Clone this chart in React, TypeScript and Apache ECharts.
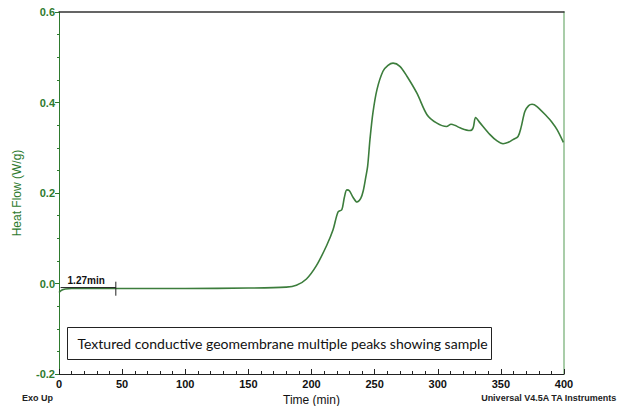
import React, { useEffect, useRef } from "react";
import * as echarts from "echarts";

const timeMin = [
  0, 2, 5, 10, 20, 50, 100, 150, 180, 188, 196, 204, 212, 217, 221, 224, 226, 228, 230, 233, 236, 239, 241, 243,
  244.5, 246.3, 248.7, 251.9, 256.6, 260.6, 264.6, 270, 275.6, 283.6, 291.5, 299, 307, 310.5, 314, 317.6, 325.5,
  328, 330, 333.5, 341.4, 347, 351.7, 356, 359.6, 363.6, 366, 369, 372, 374.7, 378.6, 386.5, 390, 394.5, 399.5,
];
const heatFlow = [
  -0.02, -0.015, -0.012, -0.011, -0.011, -0.011, -0.011, -0.01, -0.008, -0.004, 0.01, 0.04, 0.084, 0.118, 0.158,
  0.163, 0.19, 0.207, 0.205, 0.19, 0.18, 0.188, 0.205, 0.235, 0.26, 0.318, 0.378, 0.429, 0.469, 0.482, 0.487, 0.48,
  0.458, 0.42, 0.373, 0.355, 0.347, 0.352, 0.349, 0.344, 0.338, 0.344, 0.367, 0.355, 0.329, 0.315, 0.309, 0.312,
  0.318, 0.325, 0.345, 0.38, 0.393, 0.396, 0.391, 0.369, 0.358, 0.34, 0.312,
];
const baselineX = [1.27, 45];
const baselineY = -0.009;
const baselineTick = [0.004, -0.027];
const onsetLabel = "1.27min";
const noteText = "Textured conductive geomembrane multiple peaks showing sample";

const GREEN = "#2e7a2e";

export default function App() {
  const ref = useRef<HTMLDivElement>(null);
  useEffect(() => {
    if (!ref.current) return;
    const chart = echarts.init(ref.current, undefined, { renderer: "svg" });
    const lineData = timeMin.map((t, i) => [t, heatFlow[i]]);
    chart.setOption({
      animation: false,
      grid: { left: 59, right: 59, top: 12, bottom: 32, outerBoundsMode: "none", containLabel: false },
      xAxis: [
        {
          type: "value",
          min: 0,
          max: 400,
          interval: 50,
          name: "Time (min)",
          nameLocation: "middle",
          nameGap: 17,
          nameTextStyle: { color: "#111", fontSize: 12, fontFamily: "Liberation Sans" },
          axisLine: { show: true, onZero: false, lineStyle: { color: "#222", width: 1 } },
          axisTick: { show: true, inside: true, length: 5, lineStyle: { color: "#222" } },
          minorTick: { show: true, splitNumber: 5, length: 3, lineStyle: { color: "#222" } },
          splitLine: { show: false },
          axisLabel: {
            color: "#111",
            fontSize: 11,
            fontWeight: "bold",
            fontFamily: "Liberation Sans",
            margin: 4,
          },
        },
        {
          type: "value",
          position: "top",
          min: 0,
          max: 400,
          axisLine: { show: true, onZero: false, lineStyle: { color: "#333", width: 1.5 } },
          axisTick: { show: false },
          axisLabel: { show: false },
          splitLine: { show: false },
        },
      ],
      yAxis: [
        {
          type: "value",
          min: -0.2,
          max: 0.6,
          interval: 0.2,
          name: "Heat Flow (W/g)",
          nameLocation: "middle",
          nameGap: 36,
          nameTextStyle: { color: GREEN, fontSize: 12, fontFamily: "Liberation Sans" },
          axisLine: { show: true, onZero: false, lineStyle: { color: GREEN, width: 1 } },
          axisTick: { show: true, inside: false, length: 4, lineStyle: { color: GREEN } },
          minorTick: { show: true, splitNumber: 4, length: 2, lineStyle: { color: GREEN } },
          splitLine: { show: false },
          axisLabel: {
            color: GREEN,
            fontSize: 11,
            fontWeight: "bold",
            fontFamily: "Liberation Sans",
            margin: 4,
            formatter: (v: number) => v.toFixed(1),
          },
        },
        {
          type: "value",
          position: "right",
          min: -0.2,
          max: 0.6,
          axisLine: { show: true, onZero: false, lineStyle: { color: "#8dbd8d", width: 1.5 } },
          axisTick: { show: false },
          axisLabel: { show: false },
          splitLine: { show: false },
        },
      ],
      series: [
        {
          type: "line",
          data: lineData,
          smooth: 0.3,
          showSymbol: false,
          lineStyle: { color: "#3c7d3c", width: 1.6 },
          z: 3,
        },
        {
          type: "line",
          data: [
            {
              value: [baselineX[0], baselineY],
              label: {
                show: true,
                formatter: onsetLabel,
                position: "insideBottomLeft",
                offset: [2, 3],
                color: "#111",
                fontSize: 10,
                fontWeight: "bold",
                fontFamily: "Liberation Sans",
              },
            },
            { value: [baselineX[1], baselineY], label: { show: false } },
          ],
          showSymbol: true,
          showAllSymbol: true,
          symbol: "circle",
          symbolSize: 0.1,
          itemStyle: { color: "#222", opacity: 1 },
          lineStyle: { color: "#222", width: 1 },
          z: 4,
        },
        {
          type: "line",
          data: [
            [baselineX[1], baselineTick[0]],
            [baselineX[1], baselineTick[1]],
          ],
          symbol: "none",
          lineStyle: { color: "#222", width: 1 },
          z: 4,
        },
      ],
      graphic: [
        {
          type: "group",
          left: 67,
          top: 327,
          children: [
            {
              type: "rect",
              shape: { x: 0, y: 0, width: 424, height: 32 },
              style: { fill: "#fff", stroke: "#222", lineWidth: 1 },
            },
            {
              type: "text",
              x: 10,
              y: 16,
              style: {
                text: noteText,
                fill: "#111",
                fontSize: 14,
                fontFamily: "Lato",
                textVerticalAlign: "middle",
              },
            },
          ],
        },
        {
          type: "text",
          left: 22,
          top: 393,
          style: { text: "Exo Up", fill: "#222", fontSize: 9, fontWeight: "bold", fontFamily: "Liberation Sans" },
        },
        {
          type: "text",
          right: 6,
          top: 393,
          style: {
            text: "Universal V4.5A TA Instruments",
            fill: "#222",
            fontSize: 9,
            fontWeight: "bold",
            fontFamily: "Liberation Sans",
          },
        },
      ],
    });
    return () => chart.dispose();
  }, []);
  return <div ref={ref} style={{ width: 623, height: 406, position: "absolute", left: 0, top: 0 }} />;
}
